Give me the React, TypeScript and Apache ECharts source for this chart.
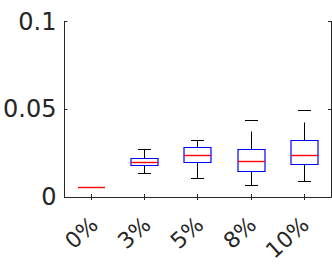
import React, { useEffect, useRef } from "react";
import * as echarts from "echarts";

const categories = ["0%", "3%", "5%", "8%", "10%"];
const lowerWhisker = [0.0055, 0.0133, 0.0103, 0.0064, 0.0091];
const q1 = [0.0055, 0.0181, 0.0198, 0.0148, 0.0186];
const median = [0.0055, 0.0198, 0.0239, 0.0201, 0.0239];
const q3 = [0.0055, 0.0218, 0.0283, 0.0272, 0.0323];
const upperWhisker = [0.0055, 0.0268, 0.0321, 0.0435, 0.0492];
const yMin = 0;
const yMax = 0.1;
const yInterval = 0.05;

const AXIS = "#262626";
const FONT = "DejaVu Sans";

const snap = (v: number) => Math.round(v - 0.5) + 0.5;

export default function App() {
  const ref = useRef<HTMLDivElement>(null);
  useEffect(() => {
    document.body.style.margin = "0";
    const chart = echarts.init(ref.current!, null, { renderer: "svg" });
    const data = categories.map((_, i) => [
      i,
      lowerWhisker[i],
      q1[i],
      median[i],
      q3[i],
      upperWhisker[i],
    ]);
    const tickStyle = { color: AXIS, width: 1 };
    chart.setOption({
      animation: false,
      grid: [
        { left: 60.5, right: 1, top: 21.5, bottom: 67 },
        { left: 68, right: -6.5, top: 21.5, bottom: 67 },
      ],
      xAxis: [
        {
          type: "category",
          data: categories,
          gridIndex: 0,
          position: "bottom",
          axisLine: { show: true, lineStyle: tickStyle },
          axisTick: { show: true, inside: true, length: 3, alignWithLabel: true, interval: 0, lineStyle: tickStyle },
          axisLabel: { show: false },
          splitLine: { show: false },
        },
        {
          type: "category",
          data: categories,
          gridIndex: 0,
          position: "top",
          axisLine: { show: true, lineStyle: tickStyle },
          axisTick: { show: true, inside: true, length: 3, alignWithLabel: true, interval: 0, lineStyle: tickStyle },
          axisLabel: { show: false },
          splitLine: { show: false },
        },
        {
          type: "category",
          data: categories,
          gridIndex: 1,
          position: "bottom",
          axisLine: { show: false },
          axisTick: { show: false },
          splitLine: { show: false },
          axisLabel: {
            interval: 0,
            rotate: 42,
            margin: 27,
            fontSize: 22,
            fontFamily: FONT,
            color: AXIS,
          },
        },
      ],
      yAxis: [
        {
          type: "value",
          gridIndex: 0,
          position: "left",
          min: yMin,
          max: yMax,
          interval: yInterval,
          axisLine: { show: true, lineStyle: tickStyle },
          axisTick: { show: true, inside: true, length: 3, lineStyle: tickStyle },
          splitLine: { show: false },
          axisLabel: { fontSize: 24, fontFamily: FONT, color: AXIS, margin: 8 },
        },
        {
          type: "value",
          gridIndex: 0,
          position: "right",
          min: yMin,
          max: yMax,
          interval: yInterval,
          axisLine: { show: true, lineStyle: tickStyle },
          axisTick: { show: true, inside: true, length: 3, lineStyle: tickStyle },
          splitLine: { show: false },
          axisLabel: { show: false },
        },
        { type: "value", gridIndex: 1, show: false, min: yMin, max: yMax },
      ],
      series: [
        {
          type: "custom",
          xAxisIndex: 0,
          yAxisIndex: 0,
          encode: { x: 0, y: [1, 2, 3, 4, 5] },
          data,
          renderItem: (params: any, api: any) => {
            const i = api.value(0);
            const c = api.coord([i, api.value(1)]);
            const x = snap(c[0]);
            const yLo = snap(c[1]);
            const yQ1 = snap(api.coord([i, api.value(2)])[1]);
            const yMed = snap(api.coord([i, api.value(3)])[1]);
            const yQ3 = snap(api.coord([i, api.value(4)])[1]);
            const yHi = snap(api.coord([i, api.value(5)])[1]);
            const band = api.size([1, 0])[0];
            const bw = Math.round(band * 0.5);
            const cw = Math.round(band * 0.25);
            const whisker = { stroke: "#000", lineWidth: 1, lineDash: [18, 12] };
            const cap = { stroke: "#000", lineWidth: 1 };
            return {
              type: "group",
              children: [
                { type: "line", shape: { x1: x, y1: yQ3, x2: x, y2: yHi }, style: whisker },
                { type: "line", shape: { x1: x, y1: yQ1, x2: x, y2: yLo }, style: whisker },
                { type: "line", shape: { x1: x - cw / 2, y1: yHi, x2: x + cw / 2, y2: yHi }, style: cap },
                { type: "line", shape: { x1: x - cw / 2, y1: yLo, x2: x + cw / 2, y2: yLo }, style: cap },
                {
                  type: "rect",
                  shape: { x: x - bw / 2, y: yQ3, width: bw, height: yQ1 - yQ3 },
                  style: { fill: "none", stroke: "#0000ff", lineWidth: 1.2 },
                },
                {
                  type: "line",
                  shape: { x1: x - bw / 2, y1: yMed, x2: x + bw / 2, y2: yMed },
                  style: { stroke: "#ff0000", lineWidth: 1.4 },
                },
              ],
            };
          },
        },
      ],
    });
    return () => chart.dispose();
  }, []);
  return <div ref={ref} style={{ width: 332, height: 264 }} />;
}
